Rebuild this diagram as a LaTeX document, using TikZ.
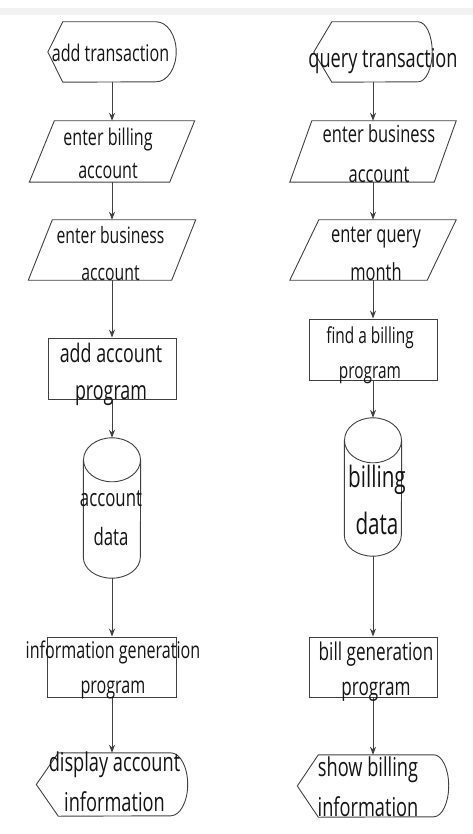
\documentclass[tikz,border=0pt]{standalone}
\usepackage{fontspec}
\setmainfont{Open Sans}[FakeStretch=0.7]
\usetikzlibrary{arrows.meta}

\newcommand{\txtsize}[2]{\fontsize{#1}{#2}\selectfont}
\tikzset{
  outl/.style={draw=black!75, line width=0.9pt},
  flow/.style={outl, -{Stealth[length=8pt, width=6pt]}},
  box/.style={inner sep=0pt, minimum width=#1},
  txt/.style={inner sep=0pt, align=center, text=black!92},
}

\begin{document}
\begin{tikzpicture}[x=1pt, y=-1pt]
  \useasboundingbox (0,0) rectangle (473,834);
  \fill[black!5] (0,8) rectangle (473,15);

  % left column: add transaction
  \node[box=128pt, minimum height=60pt] (addtr) at (112,52) {};
  \node[box=165pt, minimum height=61pt] (bill) at (112,151.5) {};
  \node[box=167pt, minimum height=60pt] (busl) at (112,250) {};
  \node[box=128pt, minimum height=61pt, outl] (addprog) at (112,368.5) {};
  \node[box=57pt, minimum height=140pt] (accdata) at (112,508) {};
  \node[box=129pt, minimum height=60pt, outl] (infogen) at (112,667) {};
  \node[box=151pt, minimum height=63pt] (dispacc) at (112,784.5) {};

  % right column: query transaction
  \node[box=118pt, minimum height=60pt] (qrytr) at (373,52) {};
  \node[box=166pt, minimum height=61pt] (busr) at (373,151.5) {};
  \node[box=166pt, minimum height=60pt] (month) at (373,250) {};
  \node[box=128pt, minimum height=61pt, outl] (findprog) at (373,349.5) {};
  \node[box=57pt, minimum height=138pt] (billdata) at (373,487) {};
  \node[box=128pt, minimum height=60pt, outl] (billgen) at (373,667) {};
  \node[box=151pt, minimum height=62pt] (showbill) at (373,786) {};

  % terminals and displays
  \foreach \n/\ns/\nr/\ny in {addtr/15/20/30, qrytr/18/14/30, dispacc/22/17/31.5, showbill/21/15/31}
    \draw[outl] (\n.west) -- ([xshift=\ns pt]\n.north west) -- ([xshift=-\nr pt]\n.north east)
      arc[start angle=90, end angle=-90, x radius=\nr pt, y radius=\ny pt]
      -- ([xshift=\ns pt]\n.south west) -- cycle;

  % input parallelograms
  \foreach \n/\k in {bill/25, busl/24, busr/22, month/29}
    \draw[outl] (\n.south west) -- ([xshift=-\k pt]\n.south east) -- (\n.north east)
      -- ([xshift=\k pt]\n.north west) -- cycle;

  % data stores
  \foreach \n/\ny in {accdata/22, billdata/22.5}
  {
    \draw[outl] ([yshift=-\ny pt]\n.north) ellipse[x radius=28.5pt, y radius=\ny pt];
    \draw[outl] ([yshift=-\ny pt]\n.north west) -- ([yshift=21pt]\n.south west)
      arc[start angle=180, end angle=360, x radius=28.5pt, y radius=21pt]
      -- ([yshift=-\ny pt]\n.north east);
  }

  % connectors
  \foreach \a/\b in {addtr/bill, bill/busl, busl/addprog, addprog/accdata,
      accdata/infogen, infogen/dispacc, qrytr/busr, busr/month, month/findprog,
      findprog/billdata, billdata/billgen, billgen/showbill}
    \draw[flow] (\a) -- (\b);

  % texts
  \node[txt, font=\txtsize{23}{36}] (addtr-t) at (110.5,52.5) {add transaction};
  \node[txt, font=\txtsize{23}{33}] (bill-t) at (108,153) {enter billing\\account};
  \node[txt, font=\txtsize{22.5}{37}] (busl-t) at (110.5,253.5) {enter business\\account};
  \node[txt, font=\txtsize{25.5}{37}] (addprog-t) at (111,374) {add account\\program};
  \node[txt, font=\txtsize{24}{39}] (accdata-t) at (111,518.5) {account\\data};
  \node[txt, font=\txtsize{23}{35}] (infogen-t) at (113,670) {information generation\\program};
  \node[txt, font=\txtsize{26}{40}] (dispacc-t) at (114.5,782) {display account\\information};

  \node[txt, font=\txtsize{26}{36}] (qrytr-t) at (383,61) {query transaction};
  \node[txt, font=\txtsize{23.5}{40}] (busr-t) at (379,153.5) {enter business\\account};
  \node[txt, font=\txtsize{23.5}{38}] (month-t) at (376,253.5) {enter query\\month};
  \node[txt, font=\txtsize{22}{35}] (findprog-t) at (370,355) {find a billing\\program};
  \node[txt, font=\txtsize{29.5}{47}] (billdata-t) at (377,500) {billing\\data};
  \node[txt, font=\txtsize{24.5}{35}] (billgen-t) at (376,672) {bill generation\\program};
  \node[txt, font=\txtsize{26}{40}] (showbill-t) at (368,786.5) {show billing\\information};
\end{tikzpicture}
\end{document}
